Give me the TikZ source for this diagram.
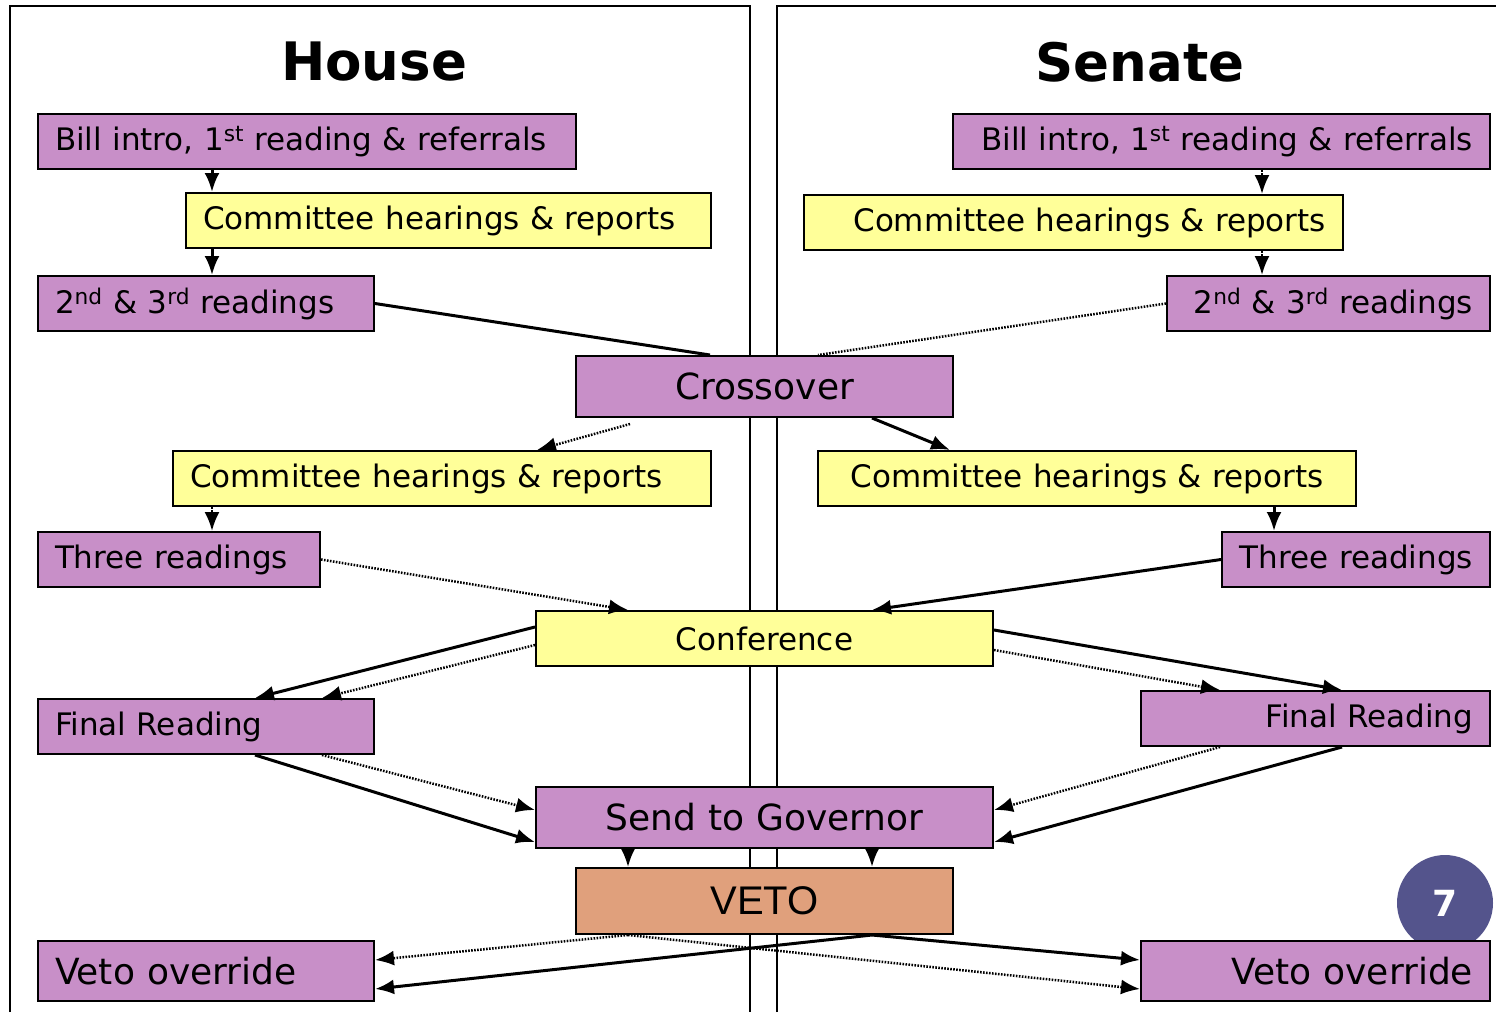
\documentclass[tikz,border=0pt]{standalone}
\usepackage{fontspec}
\setmainfont{DejaVu Sans}
\newfontfamily\vetofont{Liberation Sans}
\usetikzlibrary{arrows.meta}

\definecolor{stagepurple}{RGB}{200,143,200}
\definecolor{stageyellow}{RGB}{255,255,153}
\definecolor{vetoorange}{RGB}{224,160,124}
\definecolor{pageslate}{RGB}{84,84,140}

\tikzset{
  stage/.style={draw, line width=2pt, fill=#1, minimum height=55pt,
    inner xsep=17pt, inner ysep=0pt, anchor=north west,
    font=\fontsize{31}{36}\selectfont},
  bigstage/.style={stage=#1, font=\fontsize{36}{40}\selectfont},
  chamber/.style={font=\fontsize{53}{58}\selectfont\bfseries},
  flow/.style={line width=3pt, ->},
  altflow/.style={line width=2.5pt, dash pattern=on 1.6pt off 1.4pt, ->},
  link/.style={line width=3pt},
  altlink/.style={line width=2.5pt, dash pattern=on 1.6pt off 1.4pt}
}

\begin{document}
\begin{tikzpicture}[x=1pt,y=-1pt,>={Latex[length=19pt,width=15pt]}]
\useasboundingbox (0,0) rectangle (1496,1012);

% the two chambers
\draw[line width=2pt] (10,1012) |- (750,6) -- (750,1012);
\draw[line width=2pt] (777,1012) |- (1496,6);
\node[chamber] (house) at (374,62) {House};
\node[chamber] (senate) at (1140,62) {Senate};

\node[circle, fill=pageslate, minimum size=96pt, text=white,
  font=\fontsize{36}{40}\selectfont\bfseries] (pagenum) at (1445,903) {7};

% House side
\node[stage=stagepurple, text width=504pt] (hbill) at (37,113)
  {Bill intro, 1\textsuperscript{st} reading \& referrals};
\node[stage=stageyellow, text width=491pt] (hcom) at (185,192)
  {Committee hearings \& reports};
\node[stage=stagepurple, text width=302pt] (hread) at (37,275)
  {2\textsuperscript{nd} \& 3\textsuperscript{rd} readings};
\node[stage=stageyellow, text width=504pt] (hcomtwo) at (172,450)
  {Committee hearings \& reports};
\node[stage=stagepurple, text width=248pt] (hthree) at (37,531)
  {Three readings};
\node[stage=stagepurple, text width=302pt] (hfinal) at (37,698)
  {Final Reading};
\node[bigstage=stagepurple, text width=302pt, minimum height=60pt] (hover) at (37,940)
  {Veto override};

% Senate side
\node[stage=stagepurple, text width=503pt, align=right] (sbill) at (952,113)
  {Bill intro, 1\textsuperscript{st} reading \& referrals};
\node[stage=stageyellow, text width=505pt, align=right] (scom) at (803,194)
  {Committee hearings \& reports};
\node[stage=stagepurple, text width=289pt, align=right] (sread) at (1166,275)
  {2\textsuperscript{nd} \& 3\textsuperscript{rd} readings};
\node[stage=stageyellow, text width=504pt, align=center] (scomtwo) at (817,450)
  {Committee hearings \& reports};
\node[stage=stagepurple, text width=234pt, align=right] (sthree) at (1221,531)
  {Three readings};
\node[stage=stagepurple, text width=315pt, align=right] (sfinal) at (1140,690)
  {Final Reading};
\node[bigstage=stagepurple, text width=315pt, align=right, minimum height=60pt] (sover) at (1140,940)
  {Veto override};

% joint steps
\node[bigstage=stagepurple, text width=343pt, align=center, minimum height=61pt] (cross) at (575,355)
  {Crossover};
\node[stage=stageyellow, text width=423pt, align=center] (conf) at (535,610)
  {Conference};
\node[bigstage=stagepurple, text width=423pt, align=center, minimum height=61pt] (send) at (535,786)
  {Send to Governor};
\node[stage=vetoorange, text width=343pt, align=center, minimum height=66pt,
  font=\fontsize{40}{44}\selectfont\vetofont] (veto) at (575,867)
  {VETO};

% connectors
\draw[flow] ([xshift=175pt]hbill.south west) -- ([xshift=27pt]hcom.north west);
\draw[flow] ([xshift=27pt]hcom.south west) -- ([xshift=175pt]hread.north west);
\draw[link] (hread.east) -- ([xshift=135pt]cross.north west);

\draw[altflow] ([xshift=310pt]sbill.south west) -- ([xshift=459pt]scom.north west);
\draw[altflow] ([xshift=459pt]scom.south west) -- ([xshift=96pt]sread.north west);
\draw[altlink] (sread.west) -- ([xshift=243pt]cross.north west);

\draw[altflow] ([xshift=55pt,yshift=-6pt]cross.south west) -- ([xshift=365pt]hcomtwo.north west);
\draw[flow] ([xshift=297pt]cross.south west) -- ([xshift=133pt]scomtwo.north west);

\draw[altflow] ([xshift=40pt]hcomtwo.south west) -- ([xshift=175pt]hthree.north west);
\draw[flow] ([xshift=457pt]scomtwo.south west) -- ([xshift=53pt]sthree.north west);

\draw[altflow] (hthree.east) -- ([xshift=93pt]conf.north west);
\draw[flow] (sthree.west) -- ([xshift=337pt]conf.north west);

\draw[flow] ([yshift=-17pt]conf.north west) -- ([xshift=218pt]hfinal.north west);
\draw[altflow] ([yshift=-35pt]conf.north west) -- ([xshift=285pt]hfinal.north west);
\draw[flow] ([yshift=-20pt]conf.north east) -- ([xshift=202pt]sfinal.north west);
\draw[altflow] ([yshift=-40pt]conf.north east) -- ([xshift=80pt]sfinal.north west);

\draw[flow] ([xshift=218pt]hfinal.south west) -- ([yshift=7pt]send.south west);
\draw[altflow] ([xshift=285pt]hfinal.south west) -- ([yshift=-24pt]send.north west);
\draw[flow] ([xshift=202pt]sfinal.south west) -- ([yshift=7pt]send.south east);
\draw[altflow] ([xshift=80pt]sfinal.south west) -- ([yshift=-24pt]send.north east);

\draw[altflow] ([xshift=93pt]send.south west) -- ([xshift=53pt]veto.north west);
\draw[flow] ([xshift=337pt]send.south west) -- ([xshift=297pt]veto.north west);

\draw[altflow] ([xshift=53pt]veto.south west) -- ([yshift=-20pt]hover.north east);
\draw[flow] ([xshift=297pt]veto.south west) -- ([yshift=13pt]hover.south east);
\draw[flow] ([xshift=297pt]veto.south west) -- ([yshift=-20pt]sover.north west);
\draw[altflow] ([xshift=53pt]veto.south west) -- ([yshift=13pt]sover.south west);
\end{tikzpicture}
\end{document}
